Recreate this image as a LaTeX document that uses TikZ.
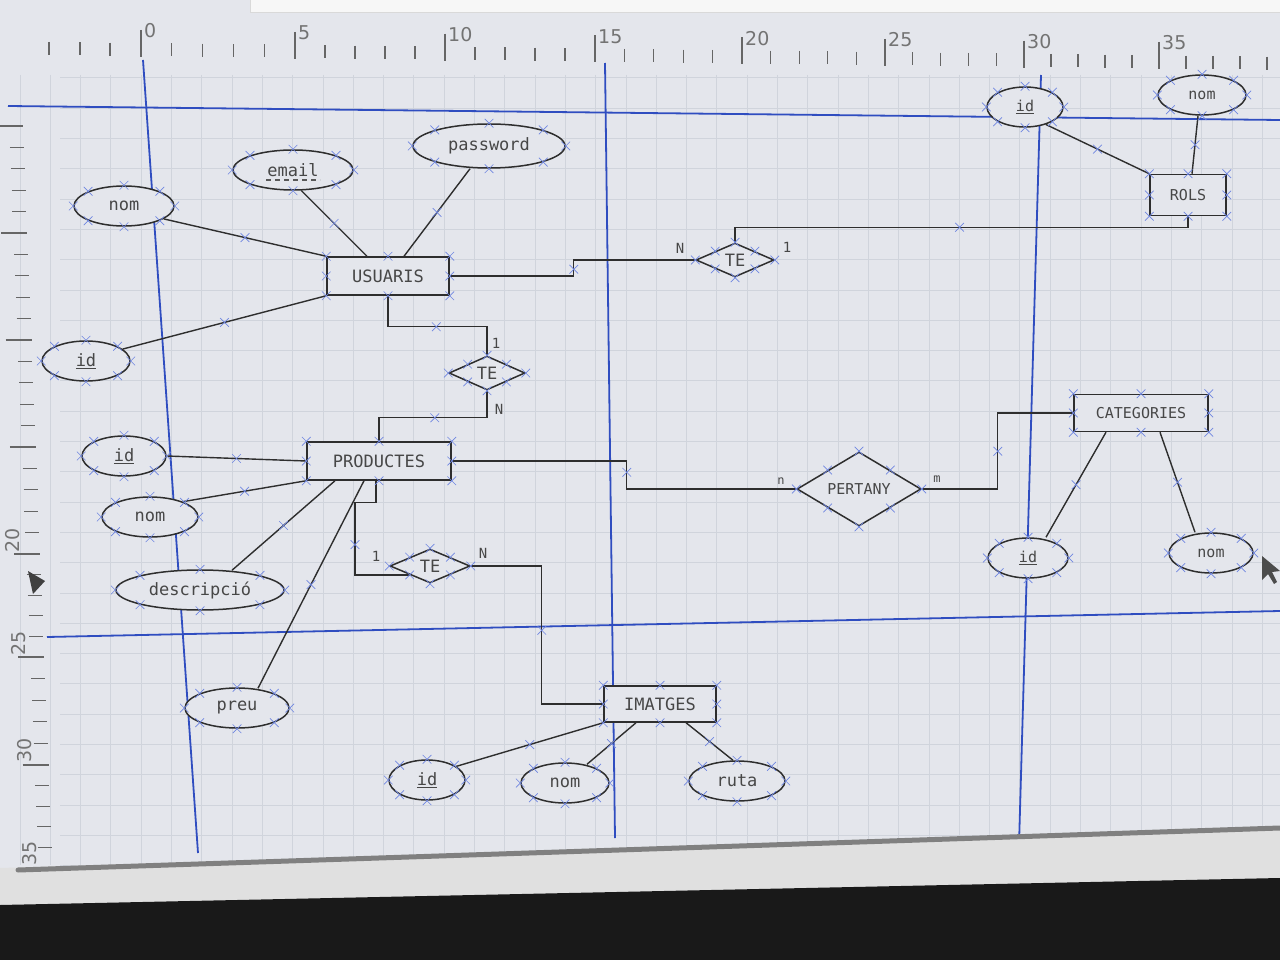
\documentclass[tikz,border=0pt]{standalone}
\usepackage{fontspec}
\newfontfamily\dm{DejaVu Sans Mono}
\newfontfamily\dsans{DejaVu Sans}
\usetikzlibrary{shapes.geometric,shapes.misc,calc,decorations.markings}
\definecolor{scr}{HTML}{E4E6EC}
\definecolor{gridc}{HTML}{D0D4DC}
\definecolor{guidec}{HTML}{2F4DC0}
\definecolor{ink}{HTML}{2E2E2E}
\definecolor{xblue}{HTML}{6F86E0}
\newcommand\xmk[1]{\foreach \a in {north,south,east,west,north east,north west,south east,south west}{\node[xm] at (#1.\a) {};}}
\begin{document}
\begin{tikzpicture}[x=1pt,y=-1pt,
  every node/.style={font=\dm\fontsize{17}{19}\selectfont, text=black!72},
  small/.style={font=\dm\fontsize{15}{17}\selectfont},
  card/.style={font=\dm\fontsize{14}{16}\selectfont, inner sep=1pt},
  ent/.style={draw=ink, line width=1.5pt, rectangle, inner sep=0pt, fill=scr},
  attr/.style={draw=ink, line width=1.5pt, ellipse, inner sep=0pt, fill=scr},
  rel/.style={draw=ink, line width=1.5pt, diamond, inner sep=0pt, fill=scr},
  xm/.style={cross out, draw=xblue, line width=0.7pt, minimum size=8pt, inner sep=0pt},
  lnk/.style={draw=ink, line width=1.4pt, postaction={decorate, decoration={markings, mark=at position 0.5 with {\node[xm]{};}}}},
  guide/.style={draw=guidec, line width=1.8pt},
  gridl/.style={draw=gridc, line width=0.5pt},
  tick/.style={draw=black!60, line width=1.3pt},
  rnum/.style={font=\dsans\fontsize{19}{21}\selectfont, text=black!55, inner sep=0pt}
]
\useasboundingbox (0,0) rectangle (1280,960);
% screen background
\fill[scr] (0,0) rectangle (1280,960);
\fill[black!3] (250,0) rectangle (1280,12);
\draw[black!15, line width=0.8pt] (250,0) -- (250,12) -- (1280,12);
% grid
\foreach \k in {-4,...,37}{\pgfmathsetmacro\xx{141+30.3*\k}\draw[gridl] (\xx,75) -- (\xx,865);}
\foreach \k in {-1,...,25}{\pgfmathsetmacro\yy{108+30.3*\k}\draw[gridl] (60,\yy) -- (1280,\yy);}
% top ruler
\foreach \a/\b/\n in {141/295/0,295/445/5,445/595/10,595/742/15,742/885/20,885/1024/25,1024/1159/30}{
  \pgfmathsetmacro\dy{(\a-141)*0.012}
  \draw[tick] (\a,30+\dy) -- (\a,57+\dy);
  \node[rnum, anchor=west] at (\a+3,31+\dy) {\n};
  \foreach \i in {1,2,3,4}{
    \pgfmathsetmacro\tx{\a+(\b-\a)*\i/5}
    \pgfmathsetmacro\ty{(\tx-141)*0.012}
    \draw[tick] (\tx,43+\ty) -- (\tx,56+\ty);}
}
\draw[tick] (1159,42) -- (1159,69);
\node[rnum, anchor=west] at (1162,43) {35};
\foreach \tx in {49,80,110,1186,1213,1240,1267}{
  \pgfmathsetmacro\ty{(\tx-141)*0.012}
  \draw[tick] (\tx,43+\ty) -- (\tx,56+\ty);}
% left ruler
\foreach \a/\b in {126/233,233/340,340/447,447/554,554/657,657/765,765/868}{
  \pgfmathsetmacro\ax{8+(\a-100)*0.04}
  \draw[tick] (\ax-12,\a) -- (\ax+14,\a);
  \foreach \i in {1,2,3,4}{
    \pgfmathsetmacro\ty{\a+(\b-\a)*\i/5}
    \pgfmathsetmacro\tx{8+(\ty-100)*0.04}
    \draw[tick] (\tx,\ty) -- (\tx+14,\ty);}
}
\node[rnum, rotate=90] at (13,540) {20};
\node[rnum, rotate=90] at (19,643) {25};
\node[rnum, rotate=90] at (25,750) {30};
\node[rnum, rotate=90] at (30,853) {35};
\draw[tick] (26,868) -- (55,868);
\fill[black!75] (28,571) -- (45,581) -- (33,594) -- cycle;
% guide lines
\draw[guide] (8,106) -- (1280,120);
\draw[guide] (47,637) -- (1280,611);
\draw[guide] (143,60) -- (198,853);
\draw[guide] (605,63) -- (615,838);
\draw[guide] (1041,75) -- (1018,880);
% bottom of screen and bezel
\fill[black!12] (0,868) -- (1280,830) -- (1280,960) -- (0,960) -- cycle;
\draw[black!50, line width=5pt, line cap=round] (18,870) -- (1280,828);
\fill[black!90] (0,905) -- (1280,878) -- (1280,960) -- (0,960) -- cycle;
\fill[black!70] (1262,556) -- (1262,580) -- (1268,574) -- (1274,584) -- (1277,582) -- (1272,572) -- (1280,571) -- cycle;

% ===== entities
\node[ent, minimum width=122pt, minimum height=38pt] (usu) at (388,276) {USUARIS};
\node[ent, minimum width=144pt, minimum height=38pt] (prod) at (379,461) {PRODUCTES};
\node[ent, minimum width=112pt, minimum height=36pt] (img) at (660,704) {IMATGES};
\node[ent, small, minimum width=76pt, minimum height=41pt] (rols) at (1188,195) {ROLS};
\node[ent, small, minimum width=134pt, minimum height=37pt] (cat) at (1141,413) {CATEGORIES};
% ===== relationships
\node[rel, minimum width=78pt, minimum height=34pt] (te1) at (735,260) {TE};
\node[rel, minimum width=76pt, minimum height=34pt] (te2) at (487,373) {TE};
\node[rel, minimum width=80pt, minimum height=34pt] (te3) at (430,566) {TE};
\node[rel, small, minimum width=124pt, minimum height=56pt] (pert) at (859,489) {PERTANY};
% ===== attributes
\node[attr, minimum width=100pt, minimum height=40pt] (unom) at (124,206) {nom};
\node[attr, minimum width=120pt, minimum height=40pt] (uemail) at (293,170) {email};
\node[attr, minimum width=152pt, minimum height=44pt] (upass) at (489,146) {password};
\node[attr, minimum width=88pt, minimum height=40pt] (uid) at (86,361) {\underline{id}};
\node[attr, minimum width=84pt, minimum height=40pt] (pid) at (124,456) {\underline{id}};
\node[attr, minimum width=96pt, minimum height=40pt] (pnom) at (150,517) {nom};
\node[attr, minimum width=168pt, minimum height=40pt] (pdesc) at (200,590) {descripció};
\node[attr, minimum width=104pt, minimum height=40pt] (ppreu) at (237,708) {preu};
\node[attr, minimum width=76pt, minimum height=40pt] (iid) at (427,780) {\underline{id}};
\node[attr, minimum width=88pt, minimum height=40pt] (inom) at (565,783) {nom};
\node[attr, minimum width=96pt, minimum height=40pt] (iruta) at (737,781) {ruta};
\node[attr, small, minimum width=76pt, minimum height=40pt] (rid) at (1025,107) {\underline{id}};
\node[attr, small, minimum width=88pt, minimum height=40pt] (rnom) at (1202,95) {nom};
\node[attr, small, minimum width=80pt, minimum height=40pt] (cid) at (1028,558) {\underline{id}};
\node[attr, small, minimum width=84pt, minimum height=40pt] (cnom) at (1211,553) {nom};
\draw[ink!80, line width=1.2pt, dash pattern=on 5pt off 4pt] ($(uemail.center)+(-27,10)$) -- ($(uemail.center)+(27,10)$);

% ===== connectors
\draw[lnk] (unom.-18) -- (usu.north west);
\draw[lnk] (uemail.-68) -- ($(usu.north)+(-21,0)$);
\draw[lnk] ($(upass.south)+(-19,0)$) -- ($(usu.north)+(16,0)$);
\draw[lnk] (uid.18) -- (usu.south west);
\draw[lnk] (usu.east) -- ++(124,0) |- (te1.west);
\draw[lnk] (te1.north) -- ++(0,-15) -| (rols.south);
\draw[lnk] ($(rols.north)+(4,0)$) -- ($(rnom.south)+(-4,0)$);
\draw[lnk] (rid.-40) -- (rols.north west);
\draw[lnk] (usu.south) -- ++(0,31) -| (te2.north);
\draw[lnk] (te2.south) -- ++(0,27) -| (prod.north);
\draw[lnk] (pid.east) -- (prod.west);
\draw[lnk] (pnom.25) -- (prod.south west);
\draw[lnk] ($(pdesc.north)+(32,1)$) -- ($(prod.south)+(-44,0)$);
\draw[lnk] ($(ppreu.north)+(21,1)$) -- ($(prod.south)+(-15,0)$);
\draw[lnk] ($(prod.south)+(-3,0)$) -- ++(0,22) -- ++(-21,0) |- (te3.south west);
\draw[lnk] (te3.east) -- ++(71,0) |- (img.west);
\draw[lnk] (iid.25) -- (img.south west);
\draw[lnk] ($(inom.north)+(22,2)$) -- ($(img.south)+(-24,0)$);
\draw[lnk] ($(iruta.north)+(-4,0)$) -- ($(img.south)+(26,0)$);
\draw[lnk] (prod.east) -- ++(175,0) |- (pert.west);
\draw[lnk] (pert.east) -- ++(76,0) |- (cat.west);
\draw[lnk] ($(cat.south)+(-35,0)$) -- ($(cid.north)+(18,0)$);
\draw[lnk] ($(cat.south)+(19,0)$) -- ($(cnom.north)+(-16,0)$);

% ===== cardinalities
\node[card] (c1) at (680,248) {N};
\node[card] (c2) at (787,247) {1};
\node[card] (c3) at (496,343) {1};
\node[card] (c4) at (499,409) {N};
\node[card] (c5) at (376,556) {1};
\node[card] (c6) at (483,553) {N};
\node[card, font=\dm\fontsize{12}{14}\selectfont] (c7) at (781,481) {n};
\node[card, font=\dm\fontsize{12}{14}\selectfont] (c8) at (937,479) {m};

% ===== connection markers
\foreach \n in {usu,prod,img,rols,cat,te1,te2,te3,pert,unom,uemail,upass,uid,pid,pnom,pdesc,ppreu,iid,inom,iruta,rid,rnom,cid,cnom}{\xmk{\n}}
\end{tikzpicture}
\end{document}
